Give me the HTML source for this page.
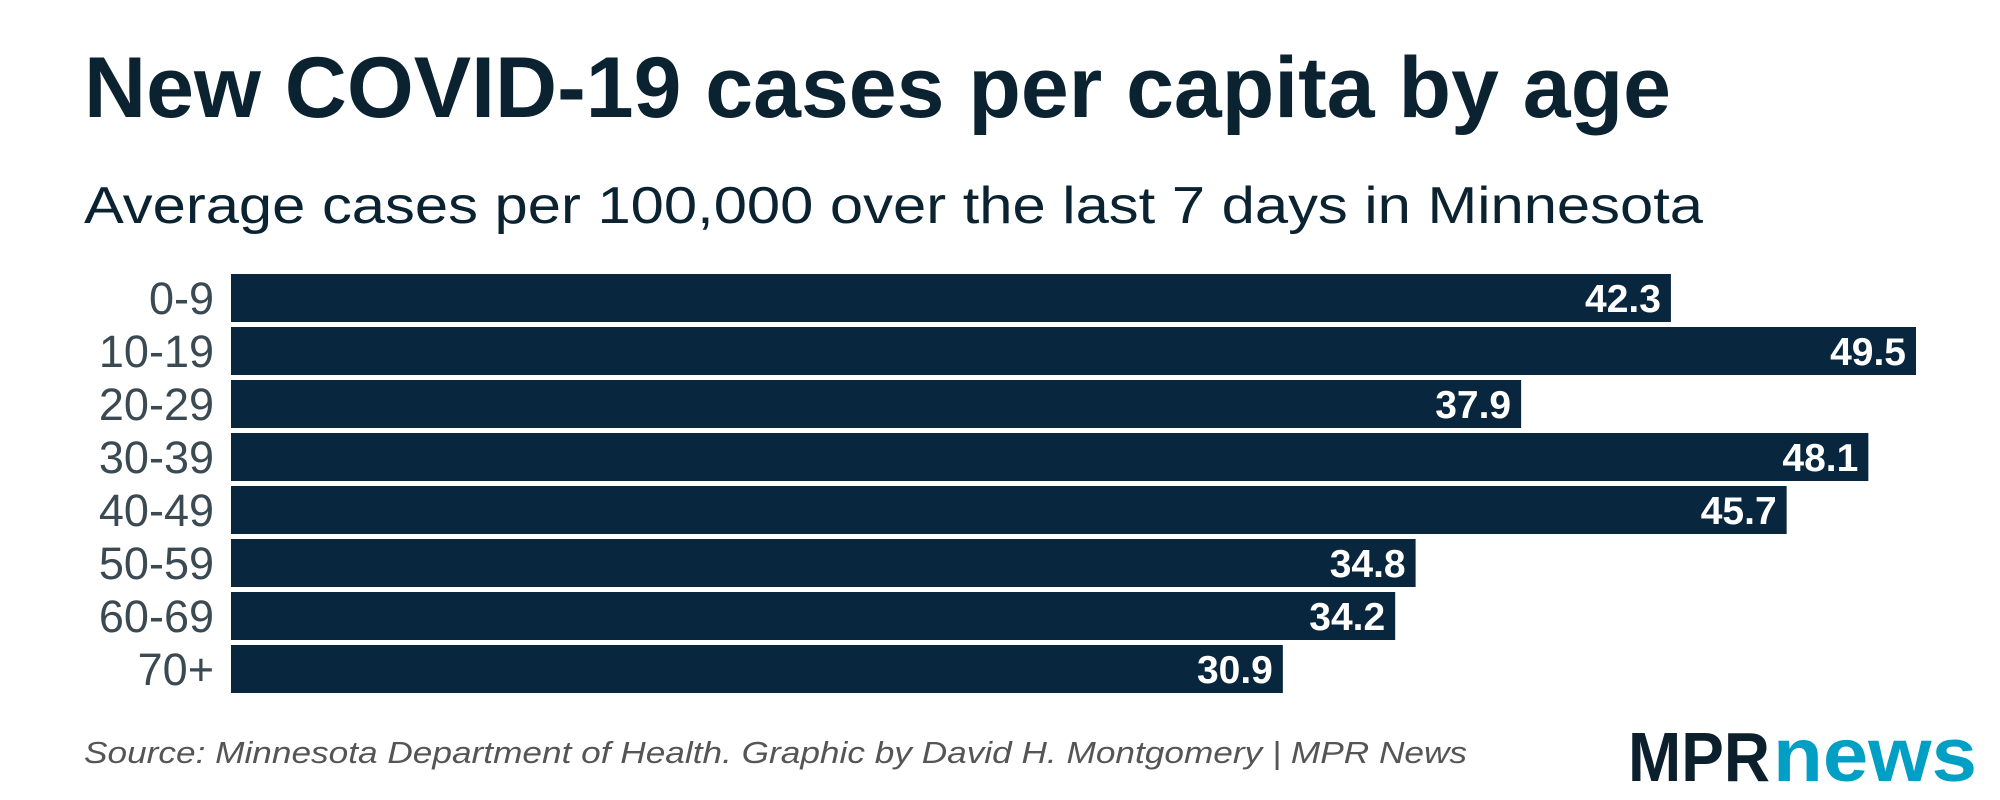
<!DOCTYPE html>
<html><head><meta charset="utf-8"><style>
html,body{margin:0;padding:0;background:#fff;}
svg{display:block;}
</style></head><body>
<svg id="chart" width="2000" height="800" viewBox="0 0 2000 800" xmlns="http://www.w3.org/2000/svg" font-family="Liberation Sans, sans-serif">
<text x="84" y="117" font-size="86" font-weight="bold" fill="#0b2231" textLength="1587" lengthAdjust="spacingAndGlyphs">New COVID-19 cases per capita by age</text>
<text x="84" y="223" font-size="52" fill="#0b2231" textLength="1619" lengthAdjust="spacingAndGlyphs">Average cases per 100,000 over the last 7 days in Minnesota</text>
<g id="bars"></g>
<text x="84" y="763" font-size="31" font-style="italic" fill="#555" textLength="1383" lengthAdjust="spacingAndGlyphs">Source: Minnesota Department of Health. Graphic by David H. Montgomery | MPR News</text>
<g>
<text x="1628" y="781" font-size="70" font-weight="bold" fill="#0b1f2d" textLength="142" lengthAdjust="spacingAndGlyphs">MPR</text>
<text x="1773" y="781" font-size="76" font-weight="bold" fill="#009fc3" textLength="204" lengthAdjust="spacingAndGlyphs">news</text>
</g>
</svg>
<script>
const categories = ["0-9","10-19","20-29","30-39","40-49","50-59","60-69","70+"];
const values = [42.3,49.5,37.9,48.1,45.7,34.8,34.2,30.9];
const valueLabels = ["42.3","49.5","37.9","48.1","45.7","34.8","34.2","30.9"];
const NS = "http://www.w3.org/2000/svg";
const x0 = 231, pxPerUnit = (1916-231)/49.5;
const top0 = 274, pitch = 53, barH = 48;
const xScale = v => x0 + v*pxPerUnit;
const yScale = i => top0 + i*pitch;
const g = document.getElementById('bars');
categories.forEach((c,i)=>{
  const y = yScale(i);
  const r = document.createElementNS(NS,'rect');
  
  
  r.setAttribute('x', x0); r.setAttribute('y', y);
  r.setAttribute('width', xScale(values[i]) - x0); r.setAttribute('height', barH);
  r.setAttribute('fill', '#08263d');
  g.appendChild(r);
  const t = document.createElementNS(NS,'text');
  
  
  t.setAttribute('x', 214); t.setAttribute('y', y + barH/2 + 16);
  t.setAttribute('text-anchor','end'); t.setAttribute('font-size','45');
  t.setAttribute('fill','#3b4a52');
  t.textContent = c;
  g.appendChild(t);
  const v = document.createElementNS(NS,'text');
  
  
  v.setAttribute('x', xScale(values[i]) - 10); v.setAttribute('y', y + barH/2 + 14);
  v.setAttribute('text-anchor','end'); v.setAttribute('font-size','39');
  v.setAttribute('font-weight','bold'); v.setAttribute('fill','#fff');
  v.textContent = valueLabels[i];
  g.appendChild(v);
});
</script>
</body></html>
